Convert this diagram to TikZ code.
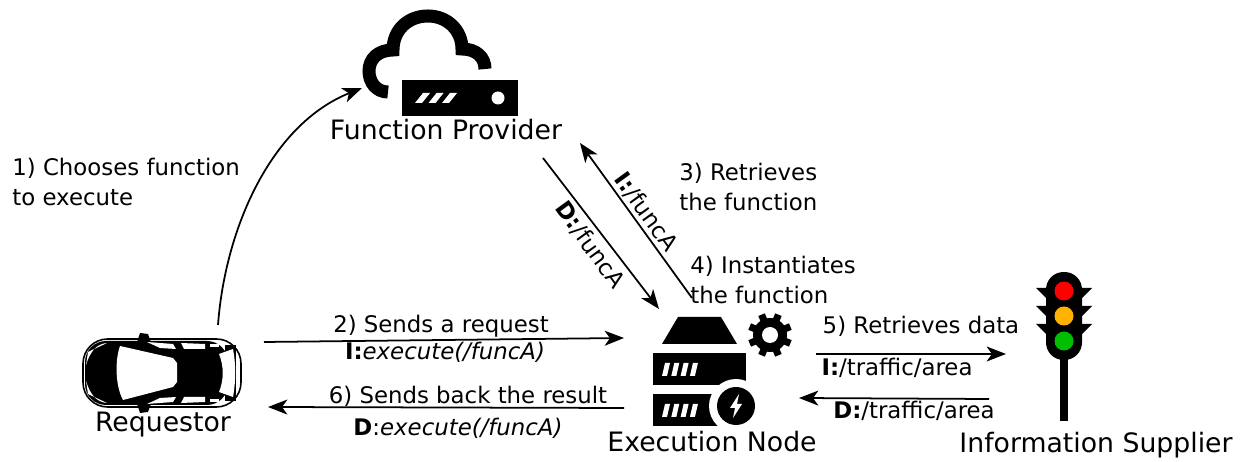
\documentclass[tikz,border=0pt]{standalone}
\usepackage{fontspec}
\setmainfont{DejaVu Sans}
\usetikzlibrary{arrows.meta}
\tikzset{
    flow/.style={-{Stealth[length=11pt,width=8.5pt,inset=3pt]},line width=1pt},
    icontext/.style={font=\fontsize{15.2}{18}\selectfont,inner sep=0pt},
    steptext/.style={font=\fontsize{13}{17}\selectfont,inner sep=0pt,align=left},
    slash/.style={fill=white,draw=none},
    body/.style={fill=black,draw=none}
}
\begin{document}
\begin{tikzpicture}[x=0.02cm,y=-0.02cm]
    \useasboundingbox (0,0) rectangle (1255,462);

    % provider icon
    \draw[line width=7.4pt] (388,92) .. controls (376,92) and (369,82) .. (369,71) .. controls (369,59) and (378,50) .. (393,50) .. controls (393,30) and (408,16) .. (428,16) .. controls (447,16) and (462,30) .. (462,49) .. controls (476,49) and (485,57) .. (485,69);
    \fill[body] (402,80) rectangle (518,116);
    \foreach \i in {0,1,2}
        \fill[slash] (415+13.5*\i,103) -- (422+13.5*\i,103) -- (430+13.5*\i,93) -- (423+13.5*\i,93) -- cycle;
    \fill[white] (498,98) circle (6.5);

    % car seen from above
    \draw[line width=0.9pt,fill=white,rounded corners=14] (83,339) rectangle (241,407);
    \fill[body,rounded corners=12] (85,341) rectangle (228,405);
    \fill[body] (225,345) rectangle (236,401);
    \fill[body] (140,333) -- (148,334) -- (152,345) -- (136,345) -- cycle;
    \fill[body] (140,413) -- (148,412) -- (152,401) -- (136,401) -- cycle;
    \fill[slash] (120,346) -- (173,358) -- (177,363) -- (177,382) -- (173,387) -- (123,400) .. controls (115,385) and (115,360) .. (120,346) -- cycle;
    \fill[slash] (219,354) -- (233,349) .. controls (236,365) and (236,380) .. (233,397) -- (219,392) .. controls (224,380) and (224,366) .. (219,354) -- cycle;
    \fill[slash] (147,342) -- (173,344) -- (176,349) -- (160,348) -- cycle;
    \fill[slash] (181,343) -- (205,344) -- (205,349) -- (184,349) -- cycle;
    \fill[slash] (210,344) -- (219,344) -- (219,347) -- (210,347) -- cycle;
    \fill[slash] (147,404) -- (173,402) -- (176,397) -- (160,398) -- cycle;
    \fill[slash] (181,403) -- (205,402) -- (205,397) -- (184,397) -- cycle;
    \fill[slash] (210,402) -- (219,402) -- (219,399) -- (210,399) -- cycle;
    \fill[slash] (86,365) .. controls (90,352) and (96,344) .. (107,343) -- (88,352) -- cycle;
    \fill[slash] (86,381) .. controls (90,394) and (96,402) .. (107,403) -- (88,394) -- cycle;

    % execution node icon
    \fill[body] (662,344) -- (737,344) -- (721,317) -- (678,317) -- cycle;
    \fill[body] (653,353) rectangle (746,385);
    \fill[body] (653,394) rectangle (720,426);
    \foreach \i in {0,1,2,3} {
        \fill[slash] (662+9.3*\i,376) -- (667+9.3*\i,376) -- (670+9.3*\i,363) -- (665+9.3*\i,363) -- cycle;
        \fill[slash] (662+9.3*\i,417) -- (667+9.3*\i,417) -- (670+9.3*\i,404) -- (665+9.3*\i,404) -- cycle;
    }
    \fill[white] (736,406) circle (27);
    \fill[body] (736,406) circle (19);
    \fill[slash] (739,394) -- (730,408) -- (735,408) -- (733,418) -- (742,404) -- (737,404) -- cycle;
    \fill[body] (770,335) circle (17);
    \foreach \a in {0,45,...,315}
        \draw[line width=4pt] (770,335) -- ++(\a+22.5:22);
    \fill[white] (770,335) circle (8);

    % traffic light
    \fill[body] (1060,355) rectangle (1068,421);
    \foreach \y in {288,306,324} {
        \fill[body] (1036,\y) -- (1050,\y) -- (1050,\y+14) -- cycle;
        \fill[body] (1092,\y) -- (1078,\y) -- (1078,\y+14) -- cycle;
    }
    \fill[body,rounded corners=10] (1046,272) rectangle (1082,360);
    \fill[red] (1064,291) circle (9.5);
    \fill[orange!60!yellow] (1064,316) circle (9.5);
    \fill[green!75!black] (1064,341) circle (9.5);

    % names
    \node[icontext] (provider) at (446,130) {Function Provider};
    \node[icontext] (requestor) at (163,425) {Requestor};
    \node[icontext] (execnode) at (712,442) {Execution Node};
    \node[icontext] (supplier) at (1096,445) {Information Supplier};

    % arrow ends
    \coordinate (carup) at (218,325);
    \coordinate (cloudin) at (362,88);
    \coordinate (carout) at (264,342);
    \coordinate (execin) at (624,338);
    \coordinate (execout) at (624,408);
    \coordinate (carin) at (268,407);
    \coordinate (provout) at (543,158);
    \coordinate (execup) at (659,309);
    \coordinate (execgo) at (692,298);
    \coordinate (provin) at (580,143);
    \coordinate (execright) at (816,354);
    \coordinate (lightin) at (1006,354);
    \coordinate (lightout) at (989,399);
    \coordinate (execback) at (799,398);

    \draw[flow] (carup) .. controls (225,230) and (270,125) .. (cloudin);
    \draw[flow] (carout) -- (execin);
    \draw[flow] (execout) -- (carin);
    \draw[flow] (provout) -- (execup);
    \draw[flow] (execgo) -- (provin);
    \draw[flow] (execright) -- (lightin);
    \draw[flow] (lightout) -- (execback);

    % step labels
    \node[steptext,anchor=west] (chooses) at (12,182) {1) Chooses function\\to execute};
    \node[steptext,anchor=west] (retrieves) at (679,187) {3) Retrieves\\the function};
    \node[steptext,anchor=west] (instantiates) at (690,280) {4) Instantiates\\the function};
    \node[steptext] (sends) at (441,326) {2) Sends a request};
    \node[steptext] (sendsint) at (445,352) {\textbf{I:}\textit{execute(/funcA)}};
    \node[steptext] (result) at (468,396) {6) Sends back the result};
    \node[steptext] (resultdata) at (458,428) {\textbf{D}:\textit{execute(/funcA)}};
    \node[steptext] (data) at (921,326) {5) Retrieves data};
    \node[steptext] (dataint) at (897,368) {\textbf{I:}/traffic/area};
    \node[steptext] (datadata) at (914,411) {\textbf{D:}/traffic/area};
    \node[steptext,rotate=-54] (funcint) at (646,212) {\textbf{I:}/funcA};
    \node[steptext,rotate=-54] (funcdata) at (590,245) {\textbf{D:}/funcA};
\end{tikzpicture}
\end{document}
